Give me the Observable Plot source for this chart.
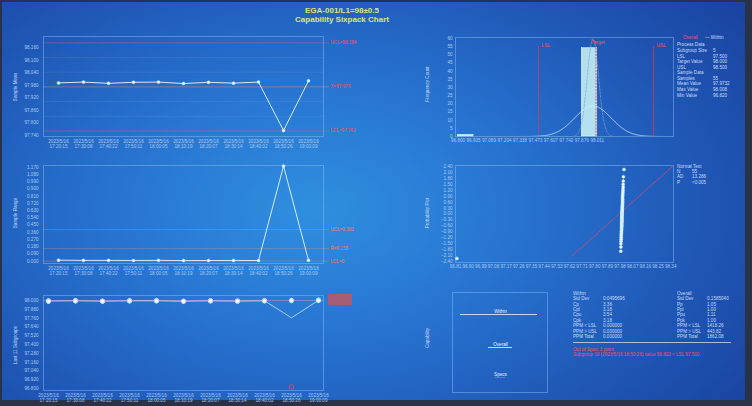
<!DOCTYPE html>
<html><head><meta charset="utf-8">
<script src="https://cdn.jsdelivr.net/npm/d3@7"></script>
<script src="https://cdn.jsdelivr.net/npm/@observablehq/plot@0.6"></script>
<style>
html,body{margin:0;padding:0;background:#263046;}
#wrap{position:relative;width:752px;height:406px;overflow:hidden;background:#283349;font-family:"Liberation Sans",Arial,sans-serif;}
#bg{position:absolute;left:2px;top:2px;width:743px;height:398px;background:radial-gradient(ellipse 72% 85% at 42% 52%, #2f8fe0 0%, #2876d2 35%, #2059b8 70%, #1a43a0 100%);}
.pl{position:absolute;}
.t{position:absolute;white-space:pre;font-size:4.6px;color:#c8dcfa;line-height:1;}
.r{color:#ff4a64;}
.ttl{position:absolute;left:242px;width:200px;text-align:center;font-weight:bold;font-size:8px;color:#dbe86a;white-space:nowrap;}
.yt{position:absolute;white-space:nowrap;font-size:4.6px;color:#c8dcfa;transform:translate(-50%,-50%) rotate(-90deg);}
</style>
</head><body>
<div id="wrap"><div id="bg"></div></div>
<script>
// ---------------- data ----------------
const subgroupLabels = ["2023/5/16\n17:20:15","2023/5/16\n17:30:08","2023/5/16\n17:40:22","2023/5/16\n17:50:11","2023/5/16\n18:00:05","2023/5/16\n18:10:19","2023/5/16\n18:20:07","2023/5/16\n18:30:14","2023/5/16\n18:40:02","2023/5/16\n18:50:26","2023/5/16\n19:00:09"];
const observations = [
  [97.992, 97.998, 97.989, 97.995, 97.986],
  [97.996, 98.001, 97.993, 97.998, 97.992],
  [97.988, 97.994, 97.985, 97.992, 97.991],
  [97.995, 97.999, 97.991, 97.997, 97.993],
  [97.997, 98.002, 97.994, 97.993, 97.994],
  [97.986, 97.992, 97.988, 97.991, 97.988],
  [97.994, 97.999, 97.992, 97.997, 97.993],
  [97.990, 97.995, 97.987, 97.993, 97.990],
  [97.996, 98.000, 97.993, 97.998, 97.993],
  [97.998, 98.003, 97.996, 98.001, 96.820],
  [98.002, 98.008, 97.998, 98.004, 97.998]
];
const xbarValues = [97.992, 97.996, 97.990, 97.995, 97.996, 97.989, 97.995, 97.991, 97.996, 97.764, 98.002];
const rangeValues = [0.012, 0.009, 0.009, 0.008, 0.009, 0.006, 0.007, 0.008, 0.007, 1.183, 0.010];
const xbarLimits = [{name:"UCL=98.184", v:98.184}, {name:"X̄=97.973", v:97.973}, {name:"LCL=97.762", v:97.762}];
const rangeLimits = [{name:"UCL=0.392", v:0.392}, {name:"R̄=0.155", v:0.155}, {name:"LCL=0", v:0}];
const xbarTicks = [97.74, 97.80, 97.86, 97.92, 97.98, 98.04, 98.10, 98.16];
const rangeTicks = [0, 0.09, 0.18, 0.27, 0.36, 0.45, 0.54, 0.63, 0.72, 0.81, 0.90, 0.99, 1.08, 1.17];
const obsTicks = [96.80, 96.92, 97.04, 97.16, 97.28, 97.40, 97.52, 97.64, 97.76, 97.88, 98.00];
const specNames = ["LSL", "Target", "USL"];
const specValues = [97.5, 98.0, 98.5];
const histEdges = [96.800, 96.935, 97.069, 97.204, 97.338, 97.473, 97.607, 97.742, 97.876, 98.011];
const histCounts = [1, 0, 0, 0, 0, 0, 0, 0, 54];
const histYTicks = [0, 5, 10, 15, 20, 25, 30, 35, 40, 45, 50, 55, 60];
const probXTicks = [96.81, 96.90, 96.99, 97.08, 97.17, 97.26, 97.35, 97.44, 97.53, 97.62, 97.71, 97.80, 97.89, 97.98, 98.07, 98.16, 98.25, 98.34];
const probYTicks = [-2.4, -2.1, -1.8, -1.5, -1.2, -0.9, -0.6, -0.3, 0, 0.3, 0.6, 0.9, 1.2, 1.5, 1.8, 2.1, 2.4];
const meanValue = 97.9732, sigmaOverall = 0.1585, sigmaWithin = 0.0496, sampleCount = 55;
const capRows = ["Within", "Overall", "Specs"];
const capLow = [94.0, 96.8, 97.5];
const capHigh = [101.7, 99.2, 98.5];

// ---------------- helpers ----------------
const wrap = document.getElementById("wrap");
const FONT = "Liberation Sans, Arial, sans-serif";
const baseStyle = {background:"transparent", color:"#a9c9f4", fontSize:"4.6px", fontFamily:FONT, overflow:"visible"};
function place(el, left, top){ const d=document.createElement("div"); d.className="pl"; d.style.left=left+"px"; d.style.top=top+"px"; d.appendChild(el); wrap.appendChild(d); }
function txt(s, x, y, cls){ const d=document.createElement("div"); d.className="t"+(cls?" "+cls:""); d.textContent=s; d.style.left=x+"px"; d.style.top=(y-2.3)+"px"; wrap.appendChild(d); return d; }
function ytitle(s, x, y){ const d=document.createElement("div"); d.className="yt"; d.textContent=s; d.style.left=x+"px"; d.style.top=y+"px"; wrap.appendChild(d); }
const RED = "#ff4a64";
const FRAME = {stroke:"#8ec0ff", strokeOpacity:0.45};
const f3 = d3.format(".3f");

// ---------------- title ----------------
{ const a=document.createElement("div"); a.className="ttl"; a.style.top="6px"; a.textContent="EGA-001/L1=98±0.5"; wrap.appendChild(a);
  const b=document.createElement("div"); b.className="ttl"; b.style.top="15px"; b.textContent="Capability Sixpack Chart"; wrap.appendChild(b); }

// ---------------- Xbar chart ----------------
const xbarData = subgroupLabels.map((s,i)=>({s, v:xbarValues[i]}));
const clX = xbarLimits[1].v, stepX = (xbarLimits[0].v - clX)/3;
place(Plot.plot({
  width:360, height:125, marginLeft:43, marginRight:37, marginTop:6, marginBottom:19,
  style:baseStyle,
  x:{type:"point", domain:subgroupLabels, padding:0.5},
  y:{domain:[97.7353, 98.2144]},
  marks:[
    Plot.frame(FRAME),
    Plot.ruleY([clX-2*stepX, clX-stepX, clX+stepX, clX+2*stepX], {stroke:"#b0d4ff", strokeOpacity:0.18, strokeWidth:0.6}),
    Plot.ruleY([xbarLimits[0].v, xbarLimits[2].v], {stroke:"#ff6070", strokeOpacity:0.5, strokeWidth:0.7, insetRight:-6}),
    Plot.ruleY([clX], {stroke:"#ffa070", strokeOpacity:0.5, strokeWidth:0.7, insetRight:-6}),
    Plot.text(xbarLimits, {y:"v", text:"name", frameAnchor:"right", dx:7, textAnchor:"start", fill:RED}),
    Plot.line(xbarData, {x:"s", y:"v", stroke:"#e8f6ff", strokeWidth:0.9}),
    Plot.dot(xbarData, {x:"s", y:"v", r:1.5, fill:"#ffffff", stroke:"#9fd8ff", strokeWidth:0.5}),
    Plot.axisY({ticks:xbarTicks, tickSize:0, tickPadding:5, tickFormat:f3, label:null}),
    Plot.axisX({tickSize:0, tickPadding:2, label:null, lineHeight:1.25})
  ]
}), 0, 30);
ytitle("Sample Mean", 15, 87);

// ---------------- Range chart ----------------
const rData = subgroupLabels.map((s,i)=>({s, v:rangeValues[i]}));
place(Plot.plot({
  width:360, height:125, marginLeft:43, marginRight:37, marginTop:10, marginBottom:17,
  style:baseStyle,
  x:{type:"point", domain:subgroupLabels, padding:0.5},
  y:{domain:[-0.03, 1.19]},
  marks:[
    Plot.frame(FRAME),
    Plot.ruleY([rangeLimits[0].v, rangeLimits[2].v], {stroke:"#ff8a60", strokeOpacity:0.5, strokeWidth:0.7, insetRight:-6}),
    Plot.ruleY([rangeLimits[1].v], {stroke:"#ffa070", strokeOpacity:0.4, strokeWidth:0.7, insetRight:-6}),
    Plot.text(rangeLimits, {y:"v", text:"name", frameAnchor:"right", dx:7, textAnchor:"start", fill:"#ff7a50"}),
    Plot.line(rData, {x:"s", y:"v", stroke:"#e8f6ff", strokeWidth:0.9}),
    Plot.dot(rData, {x:"s", y:"v", r:1.5, fill:"#ffffff", stroke:"#9fd8ff", strokeWidth:0.5}),
    Plot.axisY({ticks:rangeTicks, tickSize:0, tickPadding:5, tickFormat:d3.format(".3f"), label:null}),
    Plot.axisX({tickSize:0, tickPadding:2, label:null, lineHeight:1.25})
  ]
}), 0, 155);
ytitle("Sample Range", 15, 213);

// ---------------- Last subgroups chart ----------------
const obsData = observations.flatMap((g,i)=>g.map(v=>({s:subgroupLabels[i], v})));
const inSpec = obsData.filter(d=>d.v>=specValues[0] && d.v<=specValues[2]);
const outSpec = obsData.filter(d=>d.v<specValues[0] || d.v>specValues[2]);
place(Plot.plot({
  width:360, height:121, marginLeft:43, marginRight:37, marginTop:10, marginBottom:16,
  style:baseStyle,
  x:{type:"point", domain:subgroupLabels, padding:0, insetLeft:2, insetRight:2},
  y:{domain:[96.773, 98.068]},
  marks:[
    Plot.frame(FRAME),
    Plot.ruleY([specValues[1]], {stroke:"#d890d8", strokeOpacity:0.6, strokeWidth:0.8}),
    Plot.line(xbarData, {x:"s", y:"v", stroke:"#d8eeff", strokeWidth:0.8, strokeOpacity:0.9}),
    Plot.dot(inSpec, {x:"s", y:"v", r:2.1, fill:"#ffffff", stroke:"#8fd0ff", strokeWidth:0.6}),
    Plot.dot(outSpec, {x:"s", y:"v", r:2.2, symbol:"square", fill:"none", stroke:"#ff4060", strokeWidth:0.7}),
    Plot.axisY({ticks:obsTicks, tickSize:0, tickPadding:5, tickFormat:f3, label:null}),
    Plot.axisX({tickSize:0, tickPadding:2, label:null, lineHeight:1.25})
  ]
}), 0, 285);
ytitle("Last 11 Subgroups", 15, 345);
{ const d=document.createElement("div"); d.style.cssText="position:absolute;left:328px;top:294px;width:24px;height:11px;background:#b45a6c;opacity:0.9;"; wrap.appendChild(d); }

// ---------------- Histogram ----------------
const histBins = histCounts.map((c,i)=>({x1:histEdges[i], x2:histEdges[i+1], c}));
const bw = histEdges[1]-histEdges[0];
const pdf = (x,m,s)=>Math.exp(-0.5*((x-m)/s)**2)/(s*Math.sqrt(2*Math.PI));
const overallCurve = d3.range(96.78, 98.675, 0.003).map(x=>({x, y:sampleCount*bw*pdf(x,meanValue,sigmaOverall)}));
const withinCurve = d3.range(97.70, 98.25, 0.0015).map(x=>({x, y:sampleCount*bw*pdf(x,meanValue,sigmaWithin)}));
const specs = specNames.map((n,i)=>({n, v:specValues[i]}));
const specEnds = specs.filter(d=>d.n!=="Target");
const specTarget = specs.filter(d=>d.n==="Target");
place(Plot.plot({
  width:332, height:125, marginLeft:35, marginRight:79, marginTop:7, marginBottom:19,
  style:baseStyle,
  x:{domain:[96.778, 98.674]},
  y:{domain:[0, 60.5]},
  marks:[
    Plot.frame(FRAME),
    Plot.rectY(histBins, {x1:"x1", x2:"x2", y:"c", fill:"#c8f3f5", fillOpacity:0.88, stroke:"#f0ffff", strokeWidth:0.5}),
    Plot.ruleX(specEnds, {x:"v", y1:0, y2:55, stroke:"#e83848", strokeWidth:0.8, strokeOpacity:0.85}),
    Plot.ruleX(specTarget, {x:"v", y1:0, y2:58, stroke:"#e83848", strokeWidth:0.8, strokeDasharray:"2,1.2"}),
    Plot.line(withinCurve, {x:"x", y:"y", stroke:"#7fa8c8", strokeWidth:0.7, strokeDasharray:"2,1.5", clip:true}),
    Plot.line(overallCurve, {x:"x", y:"y", stroke:"#d8f0ff", strokeWidth:0.8, clip:true}),
    Plot.text(specEnds, {x:"v", text:"n", frameAnchor:"top", dy:6, dx:3, textAnchor:"start", fill:RED, fontSize:4.8}),
    Plot.text(specTarget, {x:"v", text:"n", frameAnchor:"top", dy:3, dx:2, textAnchor:"middle", fill:RED, fontSize:4.8}),
    Plot.axisY({ticks:histYTicks, tickSize:0, tickPadding:3, label:null}),
    Plot.axisX({ticks:histEdges, tickSize:0, tickPadding:2, tickFormat:f3, label:null})
  ]
}), 420, 30);
ytitle("Frequency Count", 427, 84);

// histogram info
{ const y0=[38,45,51,57,62,68,73,79,84,90,96];
  txt("Overall", 683, y0[0], "r"); txt("— Within", 705, y0[0]);
  const rows=[["Process Data",""],["Subgroup Size","5"],["LSL","97.500"],["Target Value","98.000"],["USL","98.500"],["Sample Data",""],["Samples","55"],["Mean Value","97.9732"],["Max Value","98.008"],["Min Value","96.820"]];
  rows.forEach((r,i)=>{ txt(r[0], 677, y0[i+1]); if(r[1]) txt(r[1], 713, y0[i+1]); });
}

// ---------------- Normal probability plot ----------------
function qnorm(p){const a=[-3.969683028665376e+01,2.209460984245205e+02,-2.759285104469687e+02,1.383577518672690e+02,-3.066479806614716e+01,2.506628277459239e+00];const b=[-5.447609879822406e+01,1.615858368580409e+02,-1.556989798598866e+02,6.680131188771972e+01,-1.328068155288572e+01];const c=[-7.784894002430293e-03,-3.223964580411365e-01,-2.400758277161838e+00,-2.549732539343734e+00,4.374664141464968e+00,2.938163982698783e+00];const d=[7.784695709041462e-03,3.224671290700398e-01,2.445134137142996e+00,3.754408661907416e+00];const pl=0.02425;let q,r;if(p<pl){q=Math.sqrt(-2*Math.log(p));return(((((c[0]*q+c[1])*q+c[2])*q+c[3])*q+c[4])*q+c[5])/((((d[0]*q+d[1])*q+d[2])*q+d[3])*q+1);}if(p>1-pl){q=Math.sqrt(-2*Math.log(1-p));return-(((((c[0]*q+c[1])*q+c[2])*q+c[3])*q+c[4])*q+c[5])/((((d[0]*q+d[1])*q+d[2])*q+d[3])*q+1);}q=p-0.5;r=q*q;return(((((a[0]*r+a[1])*r+a[2])*r+a[3])*r+a[4])*r+a[5])*q/(((((b[0]*r+b[1])*r+b[2])*r+b[3])*r+b[4])*r+1);}
const sorted = observations.flat().slice().sort(d3.ascending);
const probData = sorted.map((v,i)=>({v, z:qnorm((i+1-0.3)/(sorted.length+0.4))}));
const fitLine = [-2.1, 2.44].map(z=>({x:meanValue+z*sigmaOverall, z}));
place(Plot.plot({
  width:332, height:125, marginLeft:35, marginRight:79, marginTop:10, marginBottom:18,
  style:baseStyle,
  x:{domain:[96.81, 98.36]},
  y:{domain:[-2.44, 2.44]},
  marks:[
    Plot.frame(FRAME),
    Plot.line(fitLine, {x:"x", y:"z", stroke:"#e84860", strokeWidth:0.8, strokeDasharray:"2,1.2", clip:true}),
    Plot.dot(probData, {x:"v", y:"z", r:1.5, fill:"#ffffff", stroke:"#a8dcff", strokeWidth:0.5}),
    Plot.axisY({ticks:probYTicks, tickSize:0, tickPadding:3, tickFormat:d3.format(".2f"), label:null}),
    Plot.axisX({ticks:probXTicks, tickSize:0, tickPadding:2, tickFormat:d3.format(".2f"), label:null})
  ]
}), 420, 155);
ytitle("Probability Plot", 427, 213);
txt("Normal Test", 677, 167); txt("N", 677, 172); txt("55", 692, 172); txt("AD", 677, 177); txt("13.286", 692, 177); txt("P", 677, 183); txt("<0.005", 692, 183);

// ---------------- Capability plot ----------------
const capData = capRows.map((n,i)=>({n, lo:capLow[i], hi:capHigh[i], y:[22,55,85][i]}));
place(Plot.plot({
  width:140, height:115, marginLeft:32, marginRight:13, marginTop:7, marginBottom:8,
  style:baseStyle,
  x:{domain:[93.2, 102.7], axis:null},
  y:{domain:[0,100], reverse:true, axis:null},
  marks:[
    Plot.frame(FRAME),
    Plot.ruleY(capData, {y:"y", x1:"lo", x2:"hi", stroke:d=>d.n==="Specs"?"#ff4a64":"#e8f4ff", strokeWidth:0.8}),
    Plot.text(capData, {x:98.0, y:"y", text:"n", dy:-3, fill:"#e8f4ff", fontSize:4.6})
  ]
}), 420, 285);
ytitle("Capability", 427, 338);

// stats table
{ const within=[["Within",""],["Std Dev","0.0495696"],["Cp","3.36"],["Cpl","3.18"],["Cpu","3.54"],["Cpk","3.18"],["PPM < LSL","0.000000"],["PPM > USL","0.000000"],["PPM Total","0.000000"]];
  const overall=[["Overall",""],["Std Dev","0.1585040"],["Pp","1.05"],["Ppl","1.00"],["Ppu","1.11"],["Ppk","1.00"],["PPM < LSL","1418.26"],["PPM > USL","443.82"],["PPM Total","1862.08"]];
  within.forEach((r,i)=>{ const y=294+i*5.4; txt(r[0],573,y); if(r[1]) txt(r[1],603,y); });
  overall.forEach((r,i)=>{ const y=294+i*5.4; txt(r[0],677,y); if(r[1]) txt(r[1],707,y); });
  const hl=document.createElement("div"); hl.style.cssText="position:absolute;left:573px;top:342px;width:158px;height:0;border-top:0.5px solid rgba(220,235,255,0.7);"; wrap.appendChild(hl);
  txt("Out of Spec: 1 point", 573, 350, "r");
  txt("Subgroup 10 (2023/5/16 18:50:26) value 96.820 < LSL 97.500", 573, 355, "r");
}
</script>
</body></html>
